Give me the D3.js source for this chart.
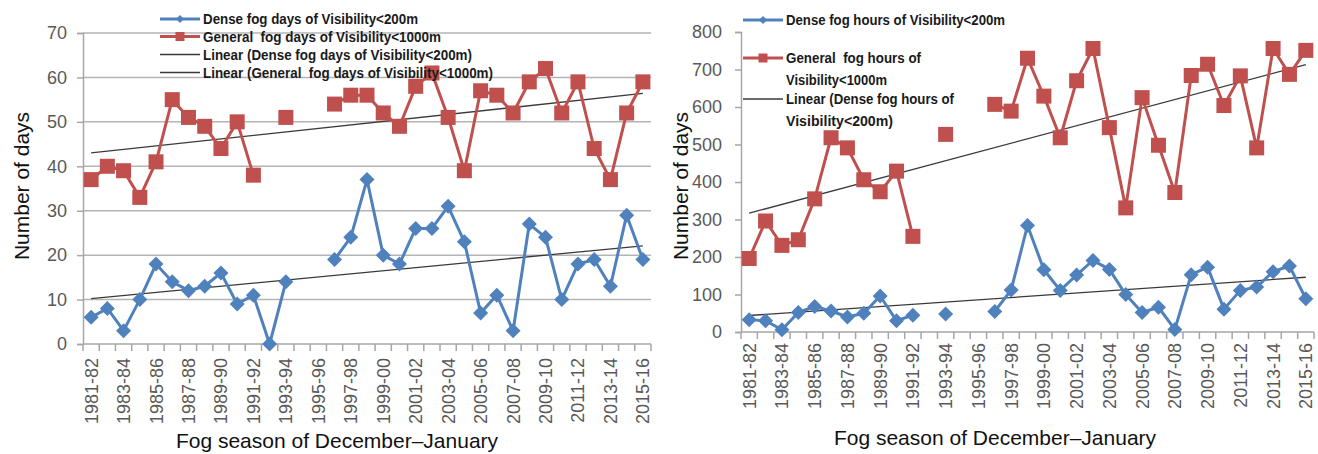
<!DOCTYPE html>
<html><head><meta charset="utf-8">
<script src="https://cdn.jsdelivr.net/npm/d3@7"></script>
<style>
body{margin:0;background:#fff}
svg{display:block}
text{white-space:pre}
</style>
</head><body>
<svg id="chart" width="1318" height="454"></svg>
<script>
// ---------------- DATA ----------------
const seasons = ["1981-82","1982-83","1983-84","1984-85","1985-86","1986-87","1987-88","1988-89","1989-90","1990-91",
  "1991-92","1992-93","1993-94","1994-95","1995-96","1996-97","1997-98","1998-99","1999-00","2000-01",
  "2001-02","2002-03","2003-04","2004-05","2005-06","2006-07","2007-08","2008-09","2009-10","2010-11",
  "2011-12","2012-13","2013-14","2014-15","2015-16"];
const shownSeasons = ["1981-82","1983-84","1985-86","1987-88","1989-90","1991-92","1993-94","1995-96","1997-98",
  "1999-00","2001-02","2003-04","2005-06","2007-08","2009-10","2011-12","2013-14","2015-16"];

const denseFogDays   = [6,8,3,10,18,14,12,13,16,9,11,0,14,null,null,19,24,37,20,18,26,26,31,23,7,11,3,27,24,10,18,19,13,29,19];
const generalFogDays = [37,40,39,33,41,55,51,49,44,50,38,null,51,null,null,54,56,56,52,49,58,61,51,39,57,56,52,59,62,52,59,44,37,52,59];
const denseFogHours  = [33,30,6,52,68,56,40,50,96,30,45,null,48,null,null,55,112,284,166,111,152,191,167,100,52,66,7,153,173,61,111,120,161,176,89];
const generalFogHours= [196,296,231,246,355,518,491,406,374,429,255,null,527,null,null,607,589,730,629,518,670,756,545,331,625,498,372,684,714,604,683,491,756,687,751];

// linear trend lines: value at first and at last season
const trendDenseDays    = [10.2, 22.1];
const trendGeneralDays  = [43.0, 56.4];
const trendDenseHours   = [44, 146];
const trendGeneralHours = [317, 713];

const daysTicks  = [0,10,20,30,40,50,60,70];
const hoursTicks = [0,100,200,300,400,500,600,700,800];

const xTitle = "Fog season of December\u2013January";
const yTitle = "Number of days";

const legendDays = [
  {label:"Dense fog days of Visibility<200m", kind:"dense", w:215},
  {label:"General  fog days of Visibility<1000m", kind:"general", w:238},
  {label:"Linear (Dense fog days of Visibility<200m)", kind:"trend", w:269},
  {label:"Linear (General  fog days of Visibility<1000m)", kind:"trend", w:290}
];
const legendHours = [
  {label:"Dense fog hours of Visibility<200m", kind:"dense", w:219},
  {label:"General  fog hours of", kind:"general", w:135},
  {label:"Visibility<1000m", kind:null, w:101},
  {label:"Linear (Dense fog hours of", kind:"trend", w:168},
  {label:"Visibility<200m)", kind:null, w:107}
];

// ---------------- STYLE ----------------
const BLUE = "#4F81BD", RED = "#C0504D", TREND = "#3a3a3a";
const AXIS = "#a6a6a6", GRID = "#b4b4b4", TICKTXT = "#595959";
const FONT = "'Liberation Sans', Arial, sans-serif";
const LFONT = "'Liberation Sans Narrow', 'Liberation Sans', Arial, sans-serif";

const svg = d3.select("#chart");

function panel(cfg){
  const g = svg.append("g");
  const x = d3.scaleBand().domain(seasons).range([cfg.x0, cfg.x1]).padding(0);
  const y = d3.scaleLinear().domain(cfg.domain).range([cfg.yBot, cfg.yTop]);
  const cx = s => x(s) + x.bandwidth()/2;

  // gridlines
  if (cfg.grid) {
    g.selectAll(".grid").data(cfg.ticks.filter(t => t > 0)).join("line")
      .attr("x1", cfg.x0).attr("x2", cfg.x1)
      .attr("y1", d => y(d)).attr("y2", d => y(d))
      .attr("stroke", GRID).attr("stroke-width", 1.5);
  }
  // y axis
  const ya = g.append("g").attr("transform", `translate(${cfg.x0},0)`)
    .call(d3.axisLeft(y).tickValues(cfg.ticks).tickSize(6).tickPadding(cfg.labPad).tickFormat(d3.format("d")));
  ya.select(".domain").attr("stroke", AXIS).attr("stroke-width", 1.5);
  ya.selectAll(".tick line").attr("stroke", AXIS).attr("stroke-width", 1.5);
  ya.selectAll(".tick text").attr("font-family", FONT).attr("font-size", 18).attr("fill", TICKTXT);

  // x axis line
  g.append("line").attr("x1", cfg.x0).attr("x2", cfg.x1).attr("y1", cfg.yBot).attr("y2", cfg.yBot)
    .attr("stroke", AXIS).attr("stroke-width", 1.5);
  // x ticks at band boundaries
  const bounds = seasons.map(s => x(s)).concat([cfg.x1]);
  g.selectAll(".xt").data(bounds).join("line")
    .attr("x1", d => d).attr("x2", d => d)
    .attr("y1", cfg.yBot).attr("y2", cfg.yBot + 7)
    .attr("stroke", AXIS).attr("stroke-width", 1.5);
  // x tick labels
  g.selectAll(".xl").data(shownSeasons).join("text")
    .attr("transform", d => `translate(${cx(d)},${cfg.labTop}) rotate(-90)`)
    .attr("text-anchor", "end").attr("dy", "0.36em")
    .attr("font-family", FONT).attr("font-size", 18).attr("fill", TICKTXT)
    .text(d => d);

  // titles
  g.append("text").attr("x", cfg.xTitleX).attr("y", cfg.xTitleY).attr("text-anchor", "middle")
    .attr("font-family", FONT).attr("font-size", 21).attr("fill", "#111").text(xTitle);
  g.append("text").attr("transform", `translate(${cfg.yTitleX},${cfg.yTitleY}) rotate(-90)`)
    .attr("text-anchor", "middle")
    .attr("font-family", FONT).attr("font-size", 21).attr("fill", "#111").text(yTitle);

  // trend lines
  const tl = d3.line().x(d => d[0]).y(d => y(d[1]));
  [cfg.trendDense, cfg.trendGeneral].forEach(t => {
    g.append("path").attr("d", tl([[cx(seasons[0]), t[0]], [cx(seasons[seasons.length-1]), t[1]]]))
      .attr("fill", "none").attr("stroke", TREND).attr("stroke-width", 1.3);
  });

  // series
  const line = d3.line().defined(d => d.v != null).x(d => cx(d.s)).y(d => y(d.v));
  const series = [
    {vals: cfg.general, color: RED, shape: "sq"},
    {vals: cfg.dense, color: BLUE, shape: "di"}
  ];
  series.forEach(ser => {
    const pts = seasons.map((s, i) => ({s, v: ser.vals[i]}));
    g.append("path").attr("d", line(pts)).attr("fill", "none")
      .attr("stroke", ser.color).attr("stroke-width", 3).attr("stroke-linejoin", "round");
    const m = pts.filter(d => d.v != null);
    if (ser.shape === "sq") {
      g.selectAll(null).data(m).join("rect")
        .attr("x", d => cx(d.s) - 7.5).attr("y", d => y(d.v) - 7.5)
        .attr("width", 15).attr("height", 15).attr("fill", ser.color);
    } else {
      g.selectAll(null).data(m).join("path")
        .attr("d", d => { const px = cx(d.s), py = y(d.v);
          return `M${px},${py-7.5}L${px+7.5},${py}L${px},${py+7.5}L${px-7.5},${py}Z`; })
        .attr("fill", ser.color);
    }
  });

  // legend
  const lg = g.append("g");
  cfg.legend.forEach((it, i) => {
    const ry = cfg.legRows[i];
    const lx0 = cfg.legX, lx1 = cfg.legX + 40;
    if (it.kind === "dense" || it.kind === "general") {
      const col = it.kind === "dense" ? BLUE : RED;
      lg.append("line").attr("x1", lx0).attr("x2", lx1).attr("y1", ry).attr("y2", ry)
        .attr("stroke", col).attr("stroke-width", 3);
      const mx = (lx0 + lx1) / 2;
      if (it.kind === "dense") {
        lg.append("path").attr("d", `M${mx},${ry-4}L${mx+4},${ry}L${mx},${ry+4}L${mx-4},${ry}Z`).attr("fill", col);
      } else {
        lg.append("rect").attr("x", mx-4.5).attr("y", ry-4.5).attr("width", 9).attr("height", 9).attr("fill", col);
      }
    } else if (it.kind === "trend") {
      lg.append("line").attr("x1", lx0).attr("x2", lx1).attr("y1", ry).attr("y2", ry)
        .attr("stroke", TREND).attr("stroke-width", 1.3);
    }
    lg.append("text").attr("x", lx1 + 3).attr("y", ry + 5)
      .attr("font-family", LFONT).attr("font-weight", "bold").attr("font-size", 14).attr("fill", "#1a1a1a")
      .attr("textLength", it.w).attr("lengthAdjust", "spacingAndGlyphs")
      .text(it.label);
  });
}

panel({
  x0: 83, x1: 651, yTop: 33, yBot: 344, domain: [0, 70], ticks: daysTicks, grid: true, labPad: 10,
  labTop: 358, xTitleX: 337, xTitleY: 448, yTitleX: 29, yTitleY: 186,
  dense: denseFogDays, general: generalFogDays,
  trendDense: trendDenseDays, trendGeneral: trendGeneralDays,
  legend: legendDays, legX: 160, legRows: [19, 36.5, 54.5, 72.5]
});
panel({
  x0: 741, x1: 1314, yTop: 32, yBot: 332, domain: [0, 800], ticks: hoursTicks, grid: false, labPad: 13,
  labTop: 343, xTitleX: 995, xTitleY: 445, yTitleX: 688, yTitleY: 186,
  dense: denseFogHours, general: generalFogHours,
  trendDense: trendDenseHours, trendGeneral: trendGeneralHours,
  legend: legendHours, legX: 743, legRows: [20, 58, 80, 99, 121]
});
</script>
</body></html>
